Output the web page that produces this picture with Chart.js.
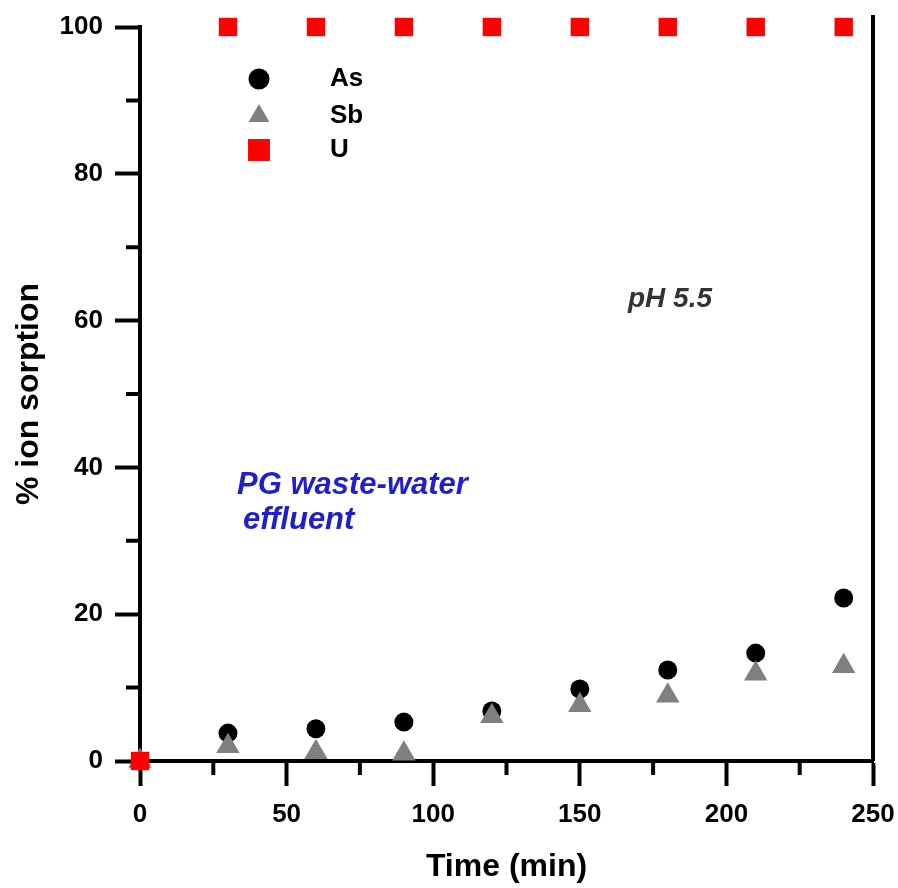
<!DOCTYPE html>
<html>
<head>
<meta charset="utf-8">
<script src="https://cdn.jsdelivr.net/npm/chart.js@4/dist/chart.umd.min.js"></script>
<style>
  body { margin: 0; background: #fff; }
  canvas { display: block; }
</style>
</head>
<body>
<canvas id="sorptionChart" width="898" height="888"></canvas>
<script>
const timeValues = [0, 30, 60, 90, 120, 150, 180, 210, 240];
const asValues = [0, 3.8, 4.4, 5.3, 6.8, 9.8, 12.4, 14.7, 22.2];
const sbValues = [0, 2.0, 1.2, 1.0, 6.1, 7.6, 8.9, 11.9, 12.9];
const uValues = [0, 100, 100, 100, 100, 100, 100, 100, 100];

const xMinorTicks = [25, 75, 125, 175, 225];
const yMinorTicks = [10, 30, 50, 70, 90];

const font = '"Liberation Sans", Arial, sans-serif';

function toPoints(values) {
    return timeValues.map((t, i) => ({ x: t, y: values[i] }));
}

const extras = {
    id: 'extras',
    beforeDatasetsDraw(chart) {
        const { ctx, chartArea: a, scales: { x, y } } = chart;
        ctx.save();
        ctx.strokeStyle = '#000';
        ctx.lineWidth = 4;
        ctx.beginPath();
        // right spine
        ctx.moveTo(a.right, a.top - 12);
        ctx.lineTo(a.right, a.bottom);
        // minor ticks
        xMinorTicks.forEach(v => {
            const px = x.getPixelForValue(v);
            ctx.moveTo(px, a.bottom);
            ctx.lineTo(px, a.bottom + 14);
        });
        yMinorTicks.forEach(v => {
            const py = y.getPixelForValue(v);
            ctx.moveTo(a.left, py);
            ctx.lineTo(a.left - 14, py);
        });
        ctx.stroke();
        ctx.restore();
    },
    afterDatasetsDraw(chart) {
        const { ctx, chartArea: a } = chart;
        ctx.save();
        // legend
        const legend = [
            { label: 'As', style: 'circle', color: '#000', r: 10.5 },
            { label: 'Sb', style: 'triangle', color: '#808080', r: 12 },
            { label: 'U', style: 'rect', color: '#ff0000', r: 15.5 }
        ];
        const lx = a.left + 119;
        const ly = [a.top + 52, a.top + 89, a.top + 123];
        legend.forEach((item, i) => {
            ctx.fillStyle = item.color;
            Chart.helpers.drawPoint(ctx, { pointStyle: item.style, radius: item.r, rotation: 0, borderWidth: 0 }, lx, ly[i]);
            ctx.fillStyle = '#000';
            ctx.font = 'bold 26px ' + font;
            ctx.textBaseline = 'middle';
            ctx.textAlign = 'left';
            ctx.fillText(item.label, a.left + 190, ly[i]);
        });
        // annotations
        ctx.fillStyle = '#333';
        ctx.font = 'italic bold 28px ' + font;
        ctx.textBaseline = 'alphabetic';
        ctx.fillText('pH 5.5', 628, 307);
        ctx.fillStyle = '#1f1fcc';
        ctx.font = 'italic bold 31px ' + font;
        ctx.fillText('PG waste-water', 237, 494);
        ctx.fillText('effluent', 243, 529);
        ctx.restore();
    }
};

new Chart(document.getElementById('sorptionChart'), {
    type: 'scatter',
    data: {
        datasets: [
            {
                label: 'U',
                data: toPoints(uValues),
                pointStyle: 'rect',
                pointRadius: 13,
                backgroundColor: '#ff0000',
                borderWidth: 0,
                clip: false,
                order: 0
            },
            {
                label: 'Sb',
                data: toPoints(sbValues),
                pointStyle: 'triangle',
                pointRadius: 13.5,
                backgroundColor: '#808080',
                borderWidth: 0,
                clip: false,
                order: 1
            },
            {
                label: 'As',
                data: toPoints(asValues),
                pointStyle: 'circle',
                pointRadius: 9.5,
                backgroundColor: '#000',
                borderWidth: 0,
                clip: false,
                order: 2
            }
        ]
    },
    options: {
        responsive: false,
        animation: false,
        events: [],
        layout: {
            padding: { top: 27, right: 25, left: 0, bottom: 0 }
        },
        plugins: {
            legend: { display: false },
            tooltip: { enabled: false }
        },
        scales: {
            x: {
                type: 'linear',
                min: 0,
                max: 250,
                afterFit: scale => {
                    scale.height = 127;
                    scale.paddingLeft = 0;
                    scale.paddingRight = 0;
                },
                ticks: {
                    stepSize: 50,
                    padding: 13,
                    color: '#000',
                    font: { family: font, size: 26, weight: 'bold' }
                },
                grid: {
                    drawOnChartArea: false,
                    drawTicks: true,
                    tickLength: 25,
                    tickWidth: 4,
                    tickColor: '#000'
                },
                border: { display: true, width: 4, color: '#000' },
                title: {
                    display: true,
                    text: 'Time (min)',
                    color: '#000',
                    font: { family: font, size: 32, weight: 'bold' },
                    padding: { top: 0, bottom: 2 }
                }
            },
            y: {
                type: 'linear',
                min: 0,
                max: 100,
                afterFit: scale => {
                    scale.width = 140;
                    scale.paddingTop = 0;
                    scale.paddingBottom = 0;
                },
                ticks: {
                    stepSize: 20,
                    padding: 12,
                    color: '#000',
                    font: { family: font, size: 26, weight: 'bold' }
                },
                grid: {
                    drawOnChartArea: false,
                    drawTicks: true,
                    tickLength: 25,
                    tickWidth: 4,
                    tickColor: '#000'
                },
                border: { display: true, width: 4, color: '#000' },
                title: {
                    display: true,
                    text: '% ion sorption',
                    color: '#000',
                    font: { family: font, size: 32, weight: 'bold' },
                    padding: { top: 10, bottom: 0 }
                }
            }
        }
    },
    plugins: [extras]
});
</script>
</body>
</html>
